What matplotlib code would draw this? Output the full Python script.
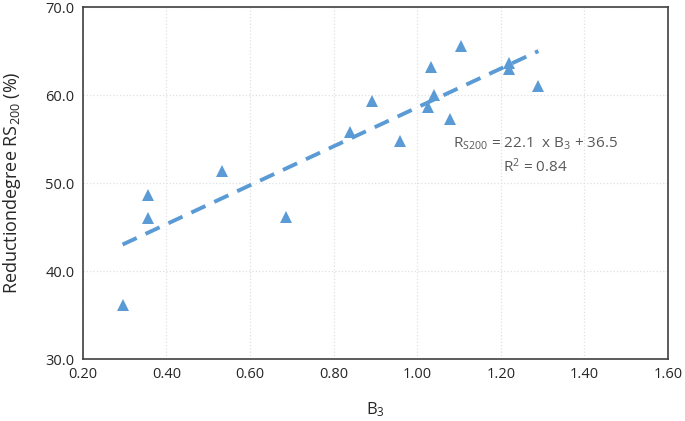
import matplotlib
matplotlib.use("Agg")
import matplotlib.pyplot as plt
import numpy as np

# B3 values and reduction degree RS200 (%)
b3 = [0.295, 0.355, 0.355, 0.534, 0.687, 0.839, 0.892, 0.959, 1.025,
      1.034, 1.041, 1.078, 1.104, 1.220, 1.220, 1.290]
rs200 = [36.1, 48.6, 46.0, 51.4, 46.2, 55.8, 59.3, 54.8, 58.7,
         63.2, 60.0, 57.3, 65.6, 63.6, 63.0, 61.0]

# trend line coefficients (from the label)
slope = 22.1
intercept = 36.5

xticks = [0.20, 0.40, 0.60, 0.80, 1.00, 1.20, 1.40, 1.60]
yticks = [30.0, 40.0, 50.0, 60.0, 70.0]

blue = "#5B9BD5"
plt.rcParams['font.family'] = ['Open Sans', 'DejaVu Sans']
plt.rcParams['mathtext.default'] = 'regular'

fig = plt.figure(figsize=(6.85, 4.21), dpi=100)
ax = fig.add_axes([0.121, 0.147, 0.854, 0.836])

ax.grid(True, color="#e0e0e0", linestyle=":", linewidth=0.9)
ax.set_axisbelow(True)

xs = np.array([min(b3), max(b3)])
ax.plot(xs, slope * xs + intercept, color=blue, linestyle=(0, (4, 2.5)),
        linewidth=2.8, zorder=2)
ax.plot(b3, rs200, linestyle="none", marker="^", markersize=8.5,
        color=blue, markeredgewidth=0, zorder=3)

ax.set_xlim(0.20, 1.60)
ax.set_ylim(30, 70)
ax.set_xticks(xticks)
ax.set_xticklabels([f"{t:.2f}" for t in xticks])
ax.set_yticks(yticks)
ax.set_yticklabels([f"{t:.1f}" for t in yticks])
ax.tick_params(length=0, labelsize=10.5, colors="#262626", pad=6)

for s in ax.spines.values():
    s.set_color("#404040")
    s.set_linewidth(1.2)

ax.set_xlabel("B$_3$", fontsize=12, color="#262626", labelpad=13)
ax.set_ylabel("Reductiondegree RS$_{200}$ (%)", fontsize=13,
              color="#262626", labelpad=16)

ax.text(1.283, 54.5, "R$_{S200}$ = 22.1  x B$_3$ + 36.5", fontsize=11,
        color="#595959", ha="center", va="center")
ax.text(1.283, 51.9, "R$^2$ = 0.84", fontsize=11,
        color="#595959", ha="center", va="center")

fig.savefig("out.png", dpi=100)
